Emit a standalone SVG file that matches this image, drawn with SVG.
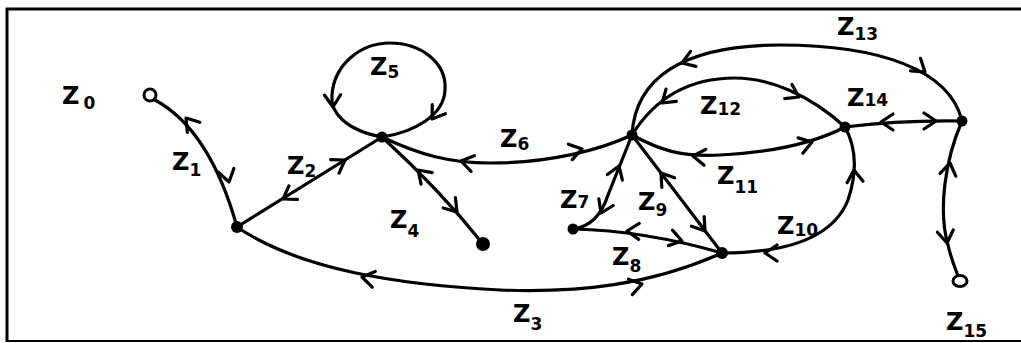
<svg xmlns="http://www.w3.org/2000/svg" xmlns:xlink="http://www.w3.org/1999/xlink" width="1021" height="343" viewBox="0 0 1021 343">
<style>
.e{fill:none;stroke:#000;stroke-width:3.2;stroke-linecap:round;stroke-linejoin:round}
.n{fill:#000}
.o{fill:#fff;stroke:#000;stroke-width:3}
.lb{font-family:"DejaVu Sans",sans-serif;font-weight:bold;font-size:24px;fill:#000}
.sb{font-size:17px}
</style>
<defs>
<path id="ah" d="M-12,-8 L0,0 L-12,8" fill="none" stroke="#000" stroke-width="3.2" stroke-linecap="round" stroke-linejoin="round"/>
</defs>
<rect width="1021" height="343" fill="#fff"/>
<path d="M7,342 L7,9 L1021,9" fill="none" stroke="#000" stroke-width="3"/>
<path d="M7,341 L1021,341" fill="none" stroke="#000" stroke-width="2"/>
<g id="connectors">
<path class="e" d="M155,100 Q210,130 237,227"/>
<use href="#ah" transform="translate(186,118) rotate(231)"/>
<use href="#ah" transform="translate(229,182) rotate(76)"/>
<path class="e" d="M237,227 L382,137"/>
<use href="#ah" transform="translate(283,199) rotate(148)"/>
<use href="#ah" transform="translate(345,160) rotate(-32)"/>
<path class="e" d="M237,227 C300,270 400,285 500,290 C580,293 650,285 722,253"/>
<use href="#ah" transform="translate(362,277) rotate(191)"/>
<use href="#ah" transform="translate(642,284) rotate(-14)"/>
<path class="e" d="M382,137 Q440,190 483,244"/>
<use href="#ah" transform="translate(418,170) rotate(-136)"/>
<use href="#ah" transform="translate(457,212) rotate(50)"/>
<path class="e" d="M382,137 C345,130 330,112 332,95 C334,65 360,43 390,43 C420,43 447,62 445,90 C444,115 415,132 382,137"/>
<use href="#ah" transform="translate(333,107) rotate(88)"/>
<use href="#ah" transform="translate(432,119) rotate(125)"/>
<path class="e" d="M382,137 C420,155 450,163 490,163 C550,163 600,150 632,135"/>
<use href="#ah" transform="translate(461,161) rotate(192)"/>
<use href="#ah" transform="translate(582,149) rotate(-14)"/>
<path class="e" d="M573,229 Q598,226 608,195 L632,135"/>
<use href="#ah" transform="translate(601,213) rotate(115)"/>
<use href="#ah" transform="translate(619,166) rotate(-70)"/>
<path class="e" d="M573,229 C620,230 670,238 722,253"/>
<use href="#ah" transform="translate(627,231) rotate(182)"/>
<use href="#ah" transform="translate(682,241) rotate(15)"/>
<path class="e" d="M632,135 L722,253"/>
<use href="#ah" transform="translate(661,173) rotate(-127)"/>
<use href="#ah" transform="translate(705,231) rotate(53)"/>
<path class="e" d="M722,253 C770,253 830,245 848,200 C858,170 855,145 845,127"/>
<use href="#ah" transform="translate(765,253) rotate(180)"/>
<use href="#ah" transform="translate(854,170) rotate(-95)"/>
<path class="e" d="M632,135 C660,150 680,157 720,155 C780,152 820,140 845,127"/>
<use href="#ah" transform="translate(693,156) rotate(186)"/>
<use href="#ah" transform="translate(812,142) rotate(-17)"/>
<path class="e" d="M632,135 C660,90 700,78 735,78 C770,78 810,95 845,127"/>
<use href="#ah" transform="translate(662,103) rotate(140)"/>
<use href="#ah" transform="translate(799,97) rotate(27)"/>
<path class="e" d="M632,135 C635,80 680,45 780,45 C880,45 950,70 962,121"/>
<use href="#ah" transform="translate(682,63) rotate(160)"/>
<use href="#ah" transform="translate(925,72) rotate(38)"/>
<path class="e" d="M845,127 Q900,120 962,121"/>
<use href="#ah" transform="translate(881,122) rotate(180)"/>
<use href="#ah" transform="translate(936,121) rotate(0)"/>
<path class="e" d="M962,121 C945,160 938,210 948,245 C952,262 956,270 958,276"/>
<use href="#ah" transform="translate(950,163) rotate(-80)"/>
<use href="#ah" transform="translate(947,243) rotate(82)"/>
</g>
<g id="z0"><circle class="o" cx="150" cy="95" r="6"/><text class="lb" x="62" y="104" font-size="32">Z<tspan class="sb" font-size="22" dy="5" dx="4">0</tspan></text></g>
<g id="nA"><circle class="n" cx="237" cy="227" r="6"/></g>
<g id="nB"><circle class="n" cx="382" cy="137" r="5.5"/></g>
<g id="nC"><circle class="n" cx="483" cy="244" r="7"/></g>
<g id="nD"><circle class="n" cx="632" cy="135" r="5.5"/></g>
<g id="nE"><circle class="n" cx="573" cy="229" r="5.5"/></g>
<g id="nF"><circle class="n" cx="722" cy="253" r="6"/></g>
<g id="nG"><circle class="n" cx="845" cy="127" r="5.5"/></g>
<g id="nH"><circle class="n" cx="962" cy="121" r="5.5"/></g>
<g id="z15"><ellipse class="o" cx="960" cy="281" rx="7" ry="5.5"/></g>
<g id="labels">
<text class="lb" x="172" y="170">Z<tspan class="sb" dy="6">1</tspan></text>
<text class="lb" x="287" y="174">Z<tspan class="sb" dy="3">2</tspan></text>
<text class="lb" x="513" y="322" font-size="28">Z<tspan class="sb" font-size="22" dy="8">3</tspan></text>
<text class="lb" x="390" y="228">Z<tspan class="sb" dy="9">4</tspan></text>
<text class="lb" x="370" y="75">Z<tspan class="sb" dy="3">5</tspan></text>
<text class="lb" x="560" y="208">Z<tspan class="sb">7</tspan></text>
<text class="lb" x="500" y="147" font-size="27">Z<tspan class="sb" dy="3">6</tspan></text>
<text class="lb" x="612" y="265">Z<tspan class="sb" dy="7">8</tspan></text>
<text class="lb" x="638" y="210">Z<tspan class="sb" dy="6">9</tspan></text>
<text class="lb" x="777" y="234">Z<tspan class="sb" dy="2">10</tspan></text>
<text class="lb" x="717" y="184">Z<tspan class="sb" dy="9">11</tspan></text>
<text class="lb" x="700" y="114">Z<tspan class="sb" dy="1">12</tspan></text>
<text class="lb" x="837" y="35">Z<tspan class="sb" dy="5">13</tspan></text>
<text class="lb" x="847" y="106">Z<tspan class="sb" dy="0">14</tspan></text>
<text class="lb" x="946" y="330" font-size="27">Z<tspan class="sb" dy="7">15</tspan></text>
</g>
</svg>
